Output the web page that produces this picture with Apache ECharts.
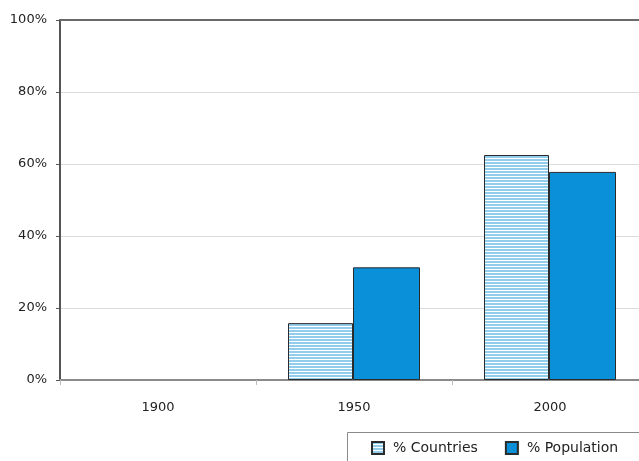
<!DOCTYPE html>
<html>
<head>
<meta charset="utf-8">
<script src="https://cdn.jsdelivr.net/npm/echarts@6/dist/echarts.min.js"></script>
<style>
  html, body { margin: 0; padding: 0; background: #fff; }
  #chart { width: 639px; height: 461px; }
</style>
</head>
<body>
<div id="chart"></div>
<script>
// Share of countries and of world population, by year
const years = ['1900', '1950', '2000'];
const countriesPct = [0, 15.8, 62.5];
const populationPct = [0, 31.3, 57.8];
const yTicks = [0, 20, 40, 60, 80, 100];

// Horizontal light-blue stripes used for the "% Countries" bars
function stripePattern() {
  const c = document.createElement('canvas');
  c.width = 4; c.height = 3;
  const g = c.getContext('2d');
  g.fillStyle = '#ffffff';
  g.fillRect(0, 0, 4, 3);
  g.fillStyle = '#92cdec';
  g.fillRect(0, 0, 4, 2);
  return c;
}
const stripes = { image: stripePattern(), repeat: 'repeat' };

// Zero-height bars get no outline so nothing shows on the baseline
const asBarData = (arr) => arr.map(v => v === 0 ? { value: v, itemStyle: { borderWidth: 0 } } : v);

const chart = echarts.init(document.getElementById('chart'), null, { renderer: 'canvas' });
const font = 'DejaVu Sans';

chart.setOption({
  animation: false,
  backgroundColor: '#ffffff',
  textStyle: { fontFamily: font },
  // plot area runs on past the right edge of the page
  grid: { left: 60, top: 20, height: 360, width: 588, outerBoundsMode: 'none' },
  // frame around the legend, also running off the page edge
  graphic: [{
    type: 'rect',
    left: 345, top: 430,
    shape: { width: 330, height: 40 },
    style: { fill: 'none', stroke: '#8a8a8a', lineWidth: 1 },
    silent: true
  }],
  legend: {
    left: 371, top: 441,
    padding: 0,
    itemGap: 27,
    itemWidth: 12, itemHeight: 12,
    icon: 'rect',
    textStyle: { fontFamily: font, fontSize: 14, color: '#222', padding: [0, 0, 0, 4] },
    data: ['% Countries', '% Population']
  },
  xAxis: [
    {
      type: 'category',
      data: years,
      axisLine: { lineStyle: { color: '#8a8a8a', width: 2 } },
      axisTick: { show: true, length: 5, lineStyle: { color: '#bbbbbb' } },
      axisLabel: { color: '#222', fontSize: 13, fontFamily: font, margin: 21 },
      splitLine: { show: false }
    },
    {
      // top frame line at 100%
      type: 'category',
      position: 'top',
      data: years,
      axisLine: { lineStyle: { color: '#6a6a6a', width: 2 } },
      axisTick: { show: false },
      axisLabel: { show: false }
    }
  ],
  yAxis: {
    type: 'value',
    min: yTicks[0], max: yTicks[yTicks.length - 1], interval: 20,
    axisLine: { show: true, lineStyle: { color: '#555', width: 2 } },
    axisTick: { show: true, length: 4, lineStyle: { color: '#555' } },
    axisLabel: { color: '#222', fontSize: 13, fontFamily: font, margin: 13, formatter: '{value}%' },
    splitLine: { show: true, lineStyle: { color: '#dcdcdc', width: 1 } }
  },
  series: [
    {
      name: '% Countries',
      type: 'bar',
      data: asBarData(countriesPct),
      barWidth: 65,
      barGap: '0%',
      itemStyle: { color: stripes, borderColor: '#2b2b2b', borderWidth: 1 }
    },
    {
      name: '% Population',
      type: 'bar',
      data: asBarData(populationPct),
      barWidth: 67,
      itemStyle: { color: '#0a8fd9', borderColor: '#2b2b2b', borderWidth: 1 }
    }
  ]
});
</script>
</body>
</html>
